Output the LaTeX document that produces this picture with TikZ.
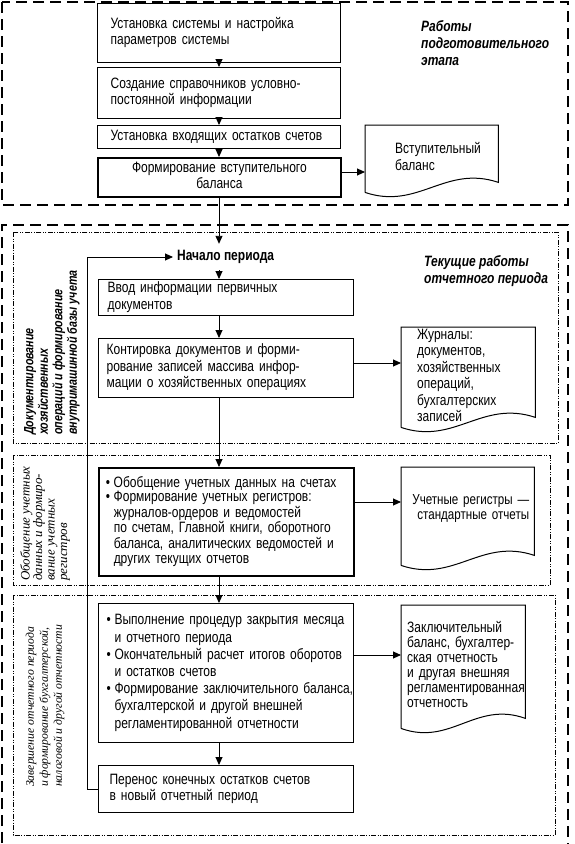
\documentclass[tikz,border=0pt]{standalone}
\usepackage{fontspec}
\setmainfont[FakeStretch=0.8]{Liberation Sans}
\newfontfamily\serifit{Liberation Serif}
\usetikzlibrary{arrows.meta,calc}
\newcommand\docout[1]{%
  \draw[docline] (#1.south west) -- (#1.north west) -- (#1.north east) -- ($(#1.south east)+(0,-10)$)
    .. controls ($(#1.south east)!0.4!(#1.south west)+(0,-28)$) and ($(#1.south west)!0.4!(#1.south east)+(0,18)$) .. (#1.south west);}
\newcommand\llines[1]{\begin{tabular}{@{}l@{}}#1\end{tabular}}
\newcommand\clines[1]{\begin{tabular}{@{}c@{}}#1\end{tabular}}
\newcommand\rlines[1]{\begin{tabular}{@{}r@{}}#1\end{tabular}}
\hbadness=10000 \hfuzz=100pt
\begin{document}
\begin{tikzpicture}[x=1pt,y=-1pt,
  box/.style={draw, line width=1.2pt, anchor=north west, align=left, inner ysep=0pt,
    font=\fontsize{15}{16.5}\selectfont},
  docbox/.style={anchor=north west, align=left, inner ysep=0pt,
    font=\fontsize{15}{16.5}\selectfont},
  docline/.style={line width=1pt},
  arr/.style={line width=0.9pt, -{Triangle[length=8pt,width=7pt]}},
  outer/.style={line width=1.5pt, dash pattern=on 11pt off 6pt},
  sect/.style={line width=0.6pt, dash pattern=on 5pt off 1.5pt on 1pt off 1.5pt on 1pt off 1.5pt},
  lbl/.style={anchor=north west, align=left, inner sep=0pt,
    font=\fontsize{15}{17}\selectfont\bfseries\itshape},
  rot/.style={rotate=90, anchor=west, align=left, inner sep=0pt}]
\useasboundingbox (0,0) rectangle (574,844);

% frames
\draw[outer] (2,2) rectangle (568,205);
\draw[outer] (2,860) -- (2,225) -- (568,225) -- (568,860);
\draw[sect] (13,232) rectangle (558,443);
\draw[sect] (13,455) rectangle (550,585);
\draw[sect] (13,595) rectangle (555,835);

% stage labels
\node[lbl] (lab1) at (421,20) {Работы\\подготовительного\\этапа};
\node[lbl] (lab2) at (424,255) {Текущие работы\\отчетного периода};

% section labels
\node[rot, font=\fontsize{13.4}{14.5}\selectfont\bfseries\itshape] (s1) at (52,435)
  {Документирование\\хозяйственных\\операций и формирование\\внутримашинной базы учета};
\node[rot, font=\serifit\itshape\fontsize{13}{12.5}\selectfont] (s2) at (45,581)
  {Обобщение учетных\\данных и формиро-\\вание учетных\\регистров};
\node[rot, font=\serifit\itshape\fontsize{11.7}{14}\selectfont] (s3) at (45,787)
  {Завершение отчетного периода\\и формирование бухгалтерской,\\налоговой и другой отчетности};

% preparatory boxes
\node[box, minimum width=243pt, minimum height=59pt, text width=217pt, inner xsep=13pt] (b1) at (97,3)
  {\llines{Установка системы и настройка\\параметров системы}};
\node[box, minimum width=243pt, minimum height=51pt, text width=217pt, inner xsep=13pt] (b2) at (97,67)
  {\llines{Создание справочников условно-\\постоянной информации}};
\node[box, minimum width=243pt, minimum height=23pt, text width=217pt, inner xsep=13pt] (b3) at (97,125)
  {\llines{Установка входящих остатков счетов}};
\node[box, line width=1.8pt, align=center, minimum width=243pt, minimum height=39pt, text width=217pt, inner xsep=13pt] (b4) at (97,157)
  {\clines{Формирование вступительного\\баланса}};

% current period
\node[anchor=west, inner xsep=4pt, inner ysep=7pt, text height=9pt, text depth=3pt,
  font=\fontsize{15}{15}\selectfont\bfseries] (start) at (173,257) {Начало периода};

\node[box, minimum width=255pt, minimum height=36pt, text width=237pt, inner xsep=9pt] (b5) at (98,279)
  {\llines{Ввод информации первичных\\документов}};
\node[box, minimum width=255pt, minimum height=59pt, text width=239pt, inner xsep=8pt] (b6) at (98,338)
  {\llines{Контировка документов и форми-\\рование записей массива инфор-\\мации о хозяйственных операциях}};
\node[box, line width=1.5pt, minimum width=255pt, minimum height=108pt, text width=241pt, inner xsep=7pt,
  font=\fontsize{15}{14.6}\selectfont] (b7) at (98,467)
  {\llines{\makebox[8pt][l]{•}Обобщение учетных данных на счетах\\
   \makebox[8pt][l]{•}Формирование учетных регистров:\\
   \hspace*{8pt}журналов-ордеров и ведомостей\\
   \hspace*{8pt}по счетам, Главной книги, оборотного\\
   \hspace*{8pt}баланса, аналитических ведомостей и\\
   \hspace*{8pt}других текущих отчетов}};
\node[box, minimum width=255pt, minimum height=139pt, text width=239pt, inner xsep=8pt,
  font=\fontsize{15}{17.2}\selectfont] (b8) at (98,603)
  {\llines{\makebox[8pt][l]{•}Выполнение процедур закрытия месяца\\
   \hspace*{8pt}и отчетного периода\\
   \makebox[8pt][l]{•}Окончательный расчет итогов оборотов\\
   \hspace*{8pt}и остатков счетов\\
   \makebox[8pt][l]{•}Формирование заключительного баланса,\\
   \hspace*{8pt}бухгалтерской и другой внешней\\
   \hspace*{8pt}регламентированной отчетности}};
\node[box, minimum width=255pt, minimum height=47pt, text width=233pt, inner xsep=11pt] (b9) at (98,765)
  {\llines{Перенос конечных остатков счетов\\в новый отчетный период}};

% documents
\node[docbox, minimum width=133pt, minimum height=67pt, text width=73pt, inner xsep=30pt] (d1) at (365,125)
  {\llines{Вступительный\\баланс}};
\node[docbox, minimum width=134pt, minimum height=100pt, text width=102pt, inner xsep=16pt] (d2) at (401,327)
  {\llines{Журналы:\\документов,\\хозяйственных\\операций,\\бухгалтерских\\записей}};
\node[docbox, align=right, minimum width=133pt, minimum height=98pt, text width=123pt, inner xsep=5pt,
  font=\fontsize{14.5}{15}\selectfont] (d3) at (401,467)
  {\rlines{Учетные регистры —\\стандартные отчеты\\ \mbox{}}};
\node[docbox, minimum width=124pt, minimum height=123pt, text width=112pt, inner xsep=6pt,
  font=\fontsize{15}{15}\selectfont] (d4) at (401,605)
  {\llines{Заключительный\\баланс, бухгалтер-\\ская отчетность\\и другая внешняя\\регламентированная\\отчетность}};
\docout{d1}
\docout{d2}
\docout{d3}
\docout{d4}

% connectors
\coordinate (col) at (219,0);
\draw[arr] (b1.south -| col) -- (b2.north -| col);
\draw[arr] (b2.south -| col) -- (b3.north -| col);
\draw[arr] (b3.south -| col) -- (b4.north -| col);
\draw[arr] (b4.south -| col) -- (start.north -| col);
\draw[arr] (start.south -| col) -- (b5.north -| col);
\draw[arr] (b5.south -| col) -- (b6.north -| col);
\draw[arr] (b6.south -| col) -- (b7.north -| col);
\draw[arr] (b7.south -| col) -- (b8.north -| col);
\draw[arr] (b8.south -| col) -- (b9.north -| col);

\coordinate (a4) at ($(b4.north east)+(0,15)$);
\coordinate (a6) at ($(b6.north east)+(0,25)$);
\coordinate (a7) at ($(b7.north east)+(0,35)$);
\coordinate (a8) at ($(b8.north east)+(0,52)$);
\draw[arr] (a4) -- (a4 -| d1.west);
\draw[arr] (a6) -- (a6 -| d2.west);
\draw[arr] (a7) -- (a7 -| d3.west);
\draw[arr] (a8) -- (a8 -| d4.west);

\coordinate (ret) at (87,257);
\draw[arr] (b9.west) -| (ret) -- (start.west);
\end{tikzpicture}
\end{document}
